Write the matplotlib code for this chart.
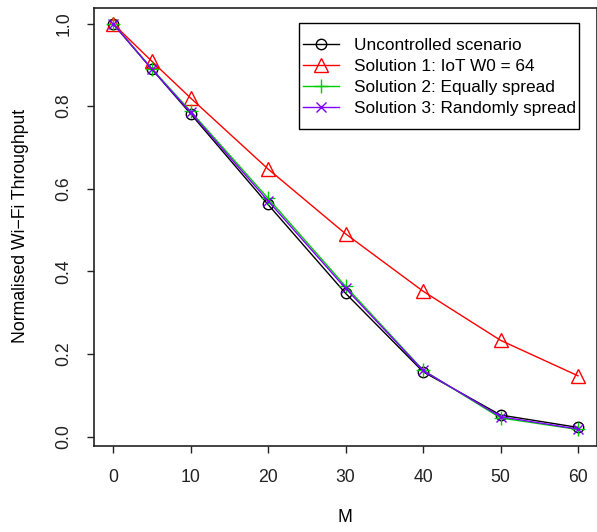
import matplotlib
matplotlib.use("Agg")
import matplotlib.pyplot as plt
from matplotlib.patches import Rectangle

plt.rcParams["font.family"] = ["Liberation Sans", "DejaVu Sans"]

# Number of IoT devices
m_values = [0, 5, 10, 20, 30, 40, 50, 60]

# Normalised Wi-Fi throughput per scenario
uncontrolled = [1.0, 0.890, 0.782, 0.562, 0.347, 0.157, 0.052, 0.022]
solution1 = [1.0, 0.909, 0.820, 0.648, 0.491, 0.352, 0.233, 0.147]
solution2 = [1.0, 0.891, 0.788, 0.577, 0.364, 0.161, 0.045, 0.017]
solution3 = [1.0, 0.890, 0.785, 0.571, 0.359, 0.160, 0.048, 0.018]

series_labels = [
    "Uncontrolled scenario",
    "Solution 1: IoT W0 = 64",
    "Solution 2: Equally spread",
    "Solution 3: Randomly spread",
]

x_ticks = [0, 10, 20, 30, 40, 50, 60]
y_ticks = [0.0, 0.2, 0.4, 0.6, 0.8, 1.0]

FS = 12.7
LEG_FS = 12.4
W, H = 597, 532
fig = plt.figure(figsize=(W / 100, H / 100), dpi=100)
left, right, top, bottom = 94.4, 596.6, 7.5, 445.8
ax = fig.add_axes([left / W, (H - bottom) / H, (right - left) / W, (bottom - top) / H])

lw = 1.0
ax.plot(m_values, uncontrolled, color="black", lw=lw, marker="o", ms=7.5,
        mfc="none", mec="black", mew=1.0, label=series_labels[0])
ax.plot(m_values, solution1, color="#FF0000", lw=lw, marker="^", ms=9.5,
        mfc="none", mec="#FF0000", mew=1.0, label=series_labels[1])
ax.plot(m_values, solution2, color="#00CD00", lw=lw, marker="+", ms=10,
        mec="#00CD00", mew=1.0, label=series_labels[2])
ax.plot(m_values, solution3, color="#7F00FF", lw=lw, marker="x", ms=6.5,
        mec="#7F00FF", mew=1.0, label=series_labels[3])

ax.set_xlim(-2.4, 62.4)
ax.set_ylim(-0.0225, 1.039)
ax.set_xticks(x_ticks)
ax.set_yticks(y_ticks)
ax.set_xticklabels([str(v) for v in x_ticks])
ax.set_yticklabels([f"{v:.1f}" for v in y_ticks], rotation=90, va="center")

for s in ax.spines.values():
    s.set_linewidth(1.2)
    s.set_color("#222222")
ax.tick_params(direction="out", length=5, width=1.0, labelsize=FS, colors="#222222")
ax.tick_params(axis="x", pad=12)
ax.tick_params(axis="y", pad=11)

fig.text(21 / W, 1 - 226 / H, "Normalised Wi\u2212Fi Throughput", rotation=90,
         ha="center", va="center", fontsize=FS)
fig.text(345 / W, 1 - 518 / H, "M", ha="center", va="center", fontsize=FS)

# Legend entries without the default frame; a plain box is drawn around them
aw, ah = right - left, bottom - top
leg = ax.legend(loc="upper left",
                bbox_to_anchor=((299 - left) / aw, 1 - (34 - top) / ah),
                borderaxespad=0, frameon=False, fontsize=LEG_FS,
                handlelength=2.05, handletextpad=0.9, labelspacing=0.34,
                borderpad=0.25)
box = Rectangle(((299 - left) / aw, 1 - (129 - top) / ah),
                (579 - 299) / aw, (129 - 23) / ah,
                transform=ax.transAxes, fill=False, edgecolor="black", lw=1.0,
                zorder=5)
ax.add_patch(box)

fig.savefig("out.png", dpi=100)
